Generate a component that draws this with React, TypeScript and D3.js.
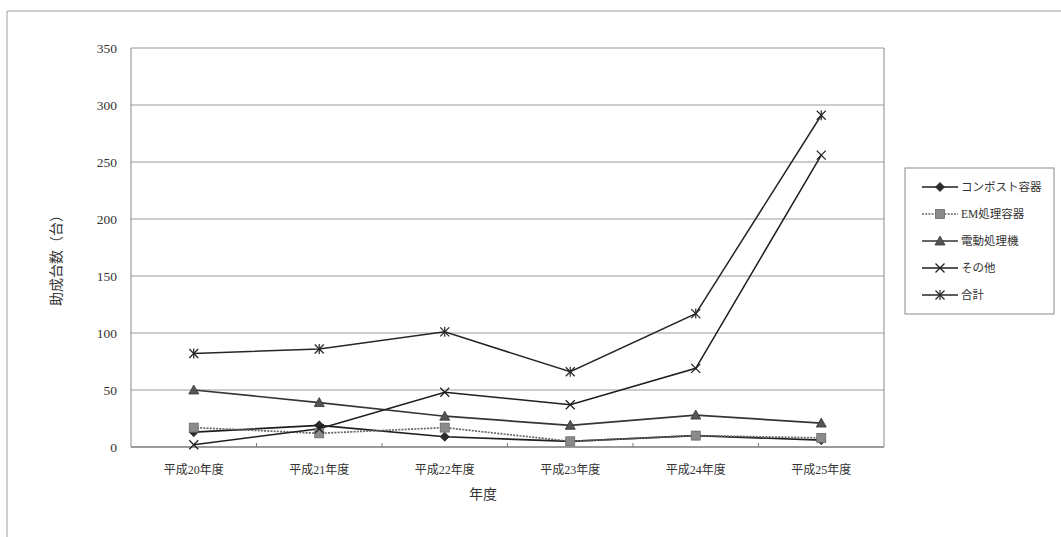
import React from 'react';
import * as d3 from 'd3';

const categories = ['平成20年度', '平成21年度', '平成22年度', '平成23年度', '平成24年度', '平成25年度'];
const compost = [13, 19, 9, 5, 10, 6];
const emContainer = [17, 12, 17, 5, 10, 8];
const electric = [50, 39, 27, 19, 28, 21];
const others = [2, 16, 48, 37, 69, 256];
const total = [82, 86, 101, 66, 117, 291];
const yTicks = [0, 50, 100, 150, 200, 250, 300, 350];

type Marker = 'diamond' | 'square' | 'triangle' | 'x' | 'star';
const seriesList: { name: string; values: number[]; marker: Marker; color: string; fill: string; dash?: string; width: number }[] = [
  { name: 'コンポスト容器', values: compost, marker: 'diamond', color: '#1e1e1e', fill: '#2a2a2a', width: 1.7 },
  { name: 'EM処理容器', values: emContainer, marker: 'square', color: '#666666', fill: '#8a8a8a', dash: '2,1.2', width: 1.7 },
  { name: '電動処理機', values: electric, marker: 'triangle', color: '#353535', fill: '#555555', width: 1.7 },
  { name: 'その他', values: others, marker: 'x', color: '#1e1e1e', fill: 'none', width: 1.5 },
  { name: '合計', values: total, marker: 'star', color: '#262626', fill: 'none', width: 1.5 },
];

const FONT = "'Liberation Serif', 'Noto Sans CJK JP', serif";

function MarkerShape({ type, x, y, color, fill }: { type: Marker; x: number; y: number; color: string; fill: string }) {
  const s = 4.5;
  switch (type) {
    case 'diamond':
      return <path d={`M${x},${y - s} L${x + s},${y} L${x},${y + s} L${x - s},${y} Z`} fill={fill} stroke={color} strokeWidth={0.8} />;
    case 'square':
      return <rect x={x - s} y={y - s} width={s * 2} height={s * 2} fill={fill} stroke="#6a6a6a" strokeWidth={0.8} />;
    case 'triangle':
      return <path d={`M${x},${y - s - 0.5} L${x + s + 0.5},${y + s - 0.5} L${x - s - 0.5},${y + s - 0.5} Z`} fill={fill} stroke={color} strokeWidth={0.8} />;
    case 'x':
      return (
        <g stroke={color} strokeWidth={1.3}>
          <line x1={x - s} y1={y - s} x2={x + s} y2={y + s} />
          <line x1={x - s} y1={y + s} x2={x + s} y2={y - s} />
        </g>
      );
    case 'star':
      return (
        <g stroke={color} strokeWidth={1.2}>
          <line x1={x - s} y1={y - s} x2={x + s} y2={y + s} />
          <line x1={x - s} y1={y + s} x2={x + s} y2={y - s} />
          <line x1={x} y1={y - s - 0.5} x2={x} y2={y + s + 0.5} />
        </g>
      );
  }
  return null;
}

export default function App() {
  const W = 1061;
  const H = 537;
  const left = 131, right = 884, top = 48, bottom = 447;
  const x = d3.scaleBand<string>().domain(categories).range([left, right]).padding(0);
  const y = d3.scaleLinear().domain([0, 350]).range([bottom, top]);
  const cx = (c: string) => (x(c) as number) + x.bandwidth() / 2;
  const line = d3.line<number>().x((_, i) => cx(categories[i])).y((v) => y(v));

  const legendX = 905, legendY = 168, legendW = 149, legendH = 146;
  const legendRow = (i: number) => legendY + 19 + i * 27;

  return (
    <svg width={W} height={H} style={{ position: 'absolute', left: 0, top: 0, background: '#fff' }} fontFamily={FONT}>
      <rect x={0} y={0} width={W} height={H} fill="#ffffff" />
      {/* outer frame */}
      <path d={`M7,${H} L7,11 L${W},11`} fill="none" stroke="#a0a0a0" strokeWidth={1} />
      {/* gridlines */}
      {yTicks.map((t) => (
        <line key={t} x1={left} x2={right} y1={y(t)} y2={y(t)} stroke={t === 0 ? '#7a7a7a' : '#9a9a9a'} strokeWidth={t === 0 ? 1.3 : 1} />
      ))}
      {/* plot border */}
      <line x1={left} x2={left} y1={top} y2={bottom} stroke="#8a8a8a" strokeWidth={1} />
      <line x1={right} x2={right} y1={top} y2={bottom} stroke="#8a8a8a" strokeWidth={1} />
      {/* x ticks */}
      {categories.slice(1).map((c) => (
        <line key={c} x1={x(c) as number} x2={x(c) as number} y1={bottom - 4} y2={bottom} stroke="#7a7a7a" strokeWidth={1} />
      ))}
      {/* y tick labels */}
      {yTicks.map((t) => (
        <text key={t} x={117} y={y(t)} dy="0.35em" textAnchor="end" fontSize={13.5} fill="#333">{t}</text>
      ))}
      {/* x tick labels */}
      {categories.map((c) => (
        <text key={c} x={cx(c)} y={470} dy="0.35em" textAnchor="middle" fontSize={12} fill="#333">{c}</text>
      ))}
      {/* axis titles */}
      <text x={483} y={494} dy="0.35em" textAnchor="middle" fontSize={14} fill="#333">年度</text>
      <text transform={`translate(56,257) rotate(-90)`} dy="0.35em" textAnchor="middle" fontSize={14} fill="#333">助成台数（台）</text>
      {/* series lines */}
      {seriesList.map((s) => (
        <path key={s.name} d={line(s.values) || ''} fill="none" stroke={s.color} strokeWidth={s.width} strokeDasharray={s.dash} />
      ))}
      {seriesList.map((s) => (
        <g key={s.name + 'm'}>
          {s.values.map((v, i) => (
            <MarkerShape key={i} type={s.marker} x={cx(categories[i])} y={y(v)} color={s.color} fill={s.fill} />
          ))}
        </g>
      ))}
      {/* legend */}
      <rect x={legendX} y={legendY} width={legendW} height={legendH} fill="#fff" stroke="#8a8a8a" strokeWidth={1} />
      {seriesList.map((s, i) => (
        <g key={s.name + 'l'}>
          <line x1={922} x2={958} y1={legendRow(i)} y2={legendRow(i)} stroke={s.color} strokeWidth={s.width} strokeDasharray={s.dash} />
          <MarkerShape type={s.marker} x={940} y={legendRow(i)} color={s.color} fill={s.fill} />
          <text x={961} y={legendRow(i)} dy="0.35em" fontSize={11.5} fill="#333">{s.name}</text>
        </g>
      ))}
    </svg>
  );
}
